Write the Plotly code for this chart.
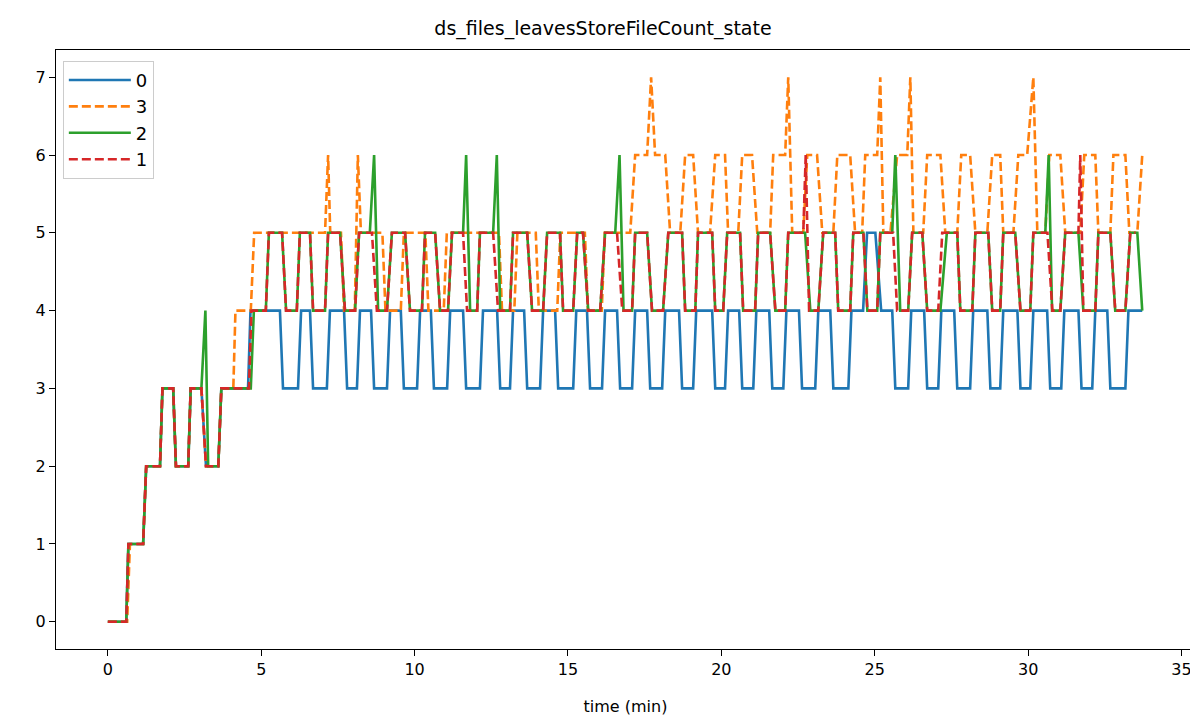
import plotly.graph_objects as go

# ---- series "0" (blue) ----
t0 = [0, 0.6, 0.67, 1.15, 1.25, 1.7, 1.78, 2.13, 2.22, 2.62, 2.7, 3.05, 3.2, 3.6, 3.7, 4.57, 4.65,
      5.61, 5.71, 6.20, 6.30, 6.59, 6.69, 7.14, 7.24, 7.70, 7.80, 8.12, 8.22,
      8.58, 8.68, 9.10, 9.20, 9.55, 9.65, 10.08, 10.18, 10.53, 10.63, 11.06, 11.16,
      11.58, 11.68, 12.13, 12.23, 12.69, 12.79, 13.11, 13.21, 13.57, 13.67, 14.09, 14.19,
      14.58, 14.68, 15.17, 15.27, 15.62, 15.72, 16.11, 16.21, 16.60, 16.70, 17.09, 17.19,
      17.58, 17.68, 18.07, 18.17, 18.62, 18.72, 19.08, 19.18, 19.70, 19.80, 20.12, 20.22,
      20.58, 20.68, 21.04, 21.14, 21.56, 21.66, 22.02, 22.12, 22.53, 22.63, 23.06, 23.16,
      23.55, 23.65, 24.14, 24.24, 24.62, 24.75, 25.02, 25.21,
      25.57, 25.67, 26.09, 26.19, 26.61, 26.71, 27.07, 27.17, 27.59, 27.69, 28.11, 28.21,
      28.67, 28.77, 29.09, 29.19, 29.65, 29.75, 30.07, 30.17, 30.62, 30.72, 31.08, 31.18,
      31.64, 31.74, 32.09, 32.19, 32.58, 32.68, 33.17, 33.27, 33.72]
v0 = [0, 0, 1, 1, 2, 2, 3, 3, 2, 2, 3, 3, 2, 2, 3, 3, 4,
      4, 3, 3, 4, 4, 3, 3, 4, 4, 3, 3, 4,
      4, 3, 3, 4, 4, 3, 3, 4, 4, 3, 3, 4,
      4, 3, 3, 4, 4, 3, 3, 4, 4, 3, 3, 4,
      4, 3, 3, 4, 4, 3, 3, 4, 4, 3, 3, 4,
      4, 3, 3, 4, 4, 3, 3, 4, 4, 3, 3, 4,
      4, 3, 3, 4, 4, 3, 3, 4, 4, 3, 3, 4,
      4, 3, 3, 4, 4, 5, 5, 4,
      4, 3, 3, 4, 4, 3, 3, 4, 4, 3, 3, 4,
      4, 3, 3, 4, 4, 3, 3, 4, 4, 3, 3, 4,
      4, 3, 3, 4, 4, 3, 3, 4, 4]

# ---- series "3" (orange) ----
t3 = [0, 0.63, 0.72, 1.15, 1.25, 1.7, 1.78, 2.13, 2.22, 2.62, 2.7, 3.05, 3.2, 3.6, 3.7, 4.09, 4.16, 4.66, 4.77,
      7.08, 7.18, 7.25, 7.60, 7.70, 8.05, 8.15, 8.25, 8.35,
      8.95, 9.05, 9.55, 9.65, 10.35, 10.45, 10.95, 11.05,
      12.75, 12.85, 13.25, 13.35, 13.95, 14.05, 14.65, 14.75,
      15.55, 15.65, 16.10, 16.20, 16.45, 16.55,
      17.03, 17.19, 17.58, 17.71, 17.84, 18.17, 18.33, 18.66, 18.82, 19.08, 19.24, 19.63,
      19.80, 20.12, 20.22, 20.55, 20.68, 21.00, 21.17, 21.59, 21.69, 22.08, 22.18, 22.31,
      22.67, 22.80, 23.12, 23.29, 23.65, 23.78, 24.20, 24.36, 24.59, 24.69, 25.08, 25.18,
      25.28, 25.51, 25.73, 26.06, 26.16, 26.26, 26.58, 26.71, 27.14, 27.30, 27.69, 27.82,
      28.11, 28.28, 28.67, 28.83, 29.09, 29.19, 29.52, 29.68, 29.97, 30.17, 30.30, 30.56,
      30.69, 31.05, 31.21, 31.70, 31.83, 32.19, 32.29, 32.68, 32.78, 33.17, 33.30, 33.56, 33.72]
v3 = [0, 0, 1, 1, 2, 2, 3, 3, 2, 2, 3, 3, 2, 2, 3, 3, 4, 4, 5,
      5, 6, 5, 5, 4, 4, 6, 5, 5,
      5, 4, 4, 5, 5, 4, 4, 5,
      5, 4, 4, 5, 5, 4, 4, 5,
      5, 4, 4, 5, 5, 5,
      5, 6, 6, 7, 6, 6, 5, 5, 6, 6, 5, 5,
      6, 6, 5, 5, 6, 6, 5, 5, 6, 6, 7, 5,
      5, 6, 6, 5, 5, 6, 6, 5, 5, 6, 6, 7,
      5, 5, 6, 6, 7, 5, 5, 6, 6, 5, 5, 6,
      6, 5, 5, 6, 6, 5, 5, 6, 6, 7, 5, 5,
      6, 6, 5, 5, 6, 6, 5, 5, 6, 6, 5, 5, 6]

# ---- series "2" (green) ----
t2 = [0, 0.6, 0.67, 1.15, 1.25, 1.7, 1.78, 2.13, 2.22, 2.62, 2.7, 3.05, 3.18, 3.27, 3.6, 3.7, 4.66, 4.76,
      5.15, 5.25, 5.68, 5.81, 6.16, 6.26, 6.59, 6.69, 7.08, 7.18, 7.57, 7.73,
      8.06, 8.19, 8.54, 8.68, 8.81, 9.10, 9.26, 9.69, 9.85, 10.24, 10.34, 10.67, 10.83,
      11.09, 11.22, 11.58, 11.68, 11.81, 12.04, 12.13, 12.56, 12.68, 12.79,
      13.11, 13.21, 13.67, 13.83, 14.19, 14.32, 14.74, 14.84, 15.17, 15.30, 15.49, 15.66,
      16.05, 16.21, 16.54, 16.68, 16.81, 17.09, 17.19, 17.58, 17.74, 18.10, 18.27, 18.72, 18.82,
      19.15, 19.24, 19.70, 19.80, 20.06, 20.19, 20.61, 20.71, 21.10, 21.20, 21.59, 21.76,
      22.08, 22.18, 22.73, 22.90, 23.16, 23.32, 23.71, 23.81, 24.20, 24.30, 24.63, 24.76,
      25.08, 25.18, 25.57, 25.67, 25.83, 26.09, 26.22, 26.55, 26.71, 27.14, 27.35, 27.69, 27.79,
      28.18, 28.28, 28.70, 28.83, 29.09, 29.19, 29.58, 29.75,
      30.07, 30.17, 30.56, 30.67, 30.78, 31.05, 31.21, 31.64, 31.80, 32.19, 32.29, 32.68, 32.84,
      33.17, 33.33, 33.56, 33.72]
v2 = [0, 0, 1, 1, 2, 2, 3, 3, 2, 2, 3, 3, 4, 2, 2, 3, 3, 4,
      4, 5, 5, 4, 4, 5, 5, 4, 4, 5, 5, 4,
      4, 5, 5, 6, 4, 4, 5, 5, 4, 4, 5, 5, 4,
      4, 5, 5, 6, 4, 4, 5, 5, 6, 4,
      4, 5, 5, 4, 4, 5, 5, 4, 4, 5, 5, 4,
      4, 5, 5, 6, 4, 4, 5, 5, 4, 4, 5, 5, 4,
      4, 5, 5, 4, 4, 5, 5, 4, 4, 5, 5, 4,
      4, 5, 5, 4, 4, 5, 5, 4, 4, 5, 5, 4,
      4, 5, 5, 6, 4, 4, 5, 5, 4, 4, 5, 5, 4,
      4, 5, 5, 4, 4, 5, 5, 4,
      4, 5, 5, 6, 4, 4, 5, 5, 4, 4, 5, 5, 4,
      4, 5, 5, 4]

# ---- series "1" (red) ----
t1 = [0, 0.6, 0.67, 1.15, 1.25, 1.7, 1.78, 2.13, 2.22, 2.62, 2.7, 3.05, 3.2, 3.6, 3.7, 4.6, 4.68,
      5.15, 5.25, 5.68, 5.81, 6.16, 6.26, 6.59, 6.69, 7.08, 7.18, 7.57, 7.73,
      8.06, 8.19, 8.61, 8.77, 9.10, 9.26, 9.69, 9.85, 10.24, 10.34, 10.67, 10.83,
      11.09, 11.22, 11.58, 11.71, 12.04, 12.13, 12.56, 12.72,
      13.11, 13.21, 13.67, 13.83, 14.19, 14.32, 14.74, 14.84, 15.17, 15.30, 15.49, 15.66,
      16.05, 16.21, 16.60, 16.77, 17.09, 17.19, 17.58, 17.74, 18.10, 18.27, 18.72, 18.82,
      19.15, 19.24, 19.70, 19.80, 20.06, 20.19, 20.61, 20.71, 21.10, 21.20, 21.59, 21.76,
      22.08, 22.18, 22.67, 22.75, 22.86, 23.16, 23.32, 23.71, 23.81, 24.20, 24.30, 24.63, 24.76,
      25.08, 25.18, 25.60, 25.73, 26.09, 26.22, 26.55, 26.71, 27.07, 27.20, 27.69, 27.79,
      28.18, 28.28, 28.70, 28.83, 29.09, 29.19, 29.58, 29.75,
      30.07, 30.17, 30.63, 30.79, 31.05, 31.21, 31.64, 31.70, 31.80, 32.19, 32.29, 32.68, 32.84,
      33.17, 33.33, 33.50]
v1 = [0, 0, 1, 1, 2, 2, 3, 3, 2, 2, 3, 3, 2, 2, 3, 3, 4,
      4, 5, 5, 4, 4, 5, 5, 4, 4, 5, 5, 4,
      4, 5, 5, 4, 4, 5, 5, 4, 4, 5, 5, 4,
      4, 5, 5, 4, 4, 5, 5, 4,
      4, 5, 5, 4, 4, 5, 5, 4, 4, 5, 5, 4,
      4, 5, 5, 4, 4, 5, 5, 4, 4, 5, 5, 4,
      4, 5, 5, 4, 4, 5, 5, 4, 4, 5, 5, 4,
      4, 5, 5, 6, 4, 4, 5, 5, 4, 4, 5, 5, 4,
      4, 5, 5, 4, 4, 5, 5, 4, 4, 5, 5, 4,
      4, 5, 5, 4, 4, 5, 5, 4,
      4, 5, 5, 4, 4, 5, 5, 6, 4, 4, 5, 5, 4,
      4, 5, 5]

series = [
    ("0", t0, v0, "#1f77b4", "solid"),
    ("3", t3, v3, "#ff7f0e", "9px,4px"),
    ("2", t2, v2, "#2ca02c", "solid"),
    ("1", t1, v1, "#d62728", "9px,4px"),
]

fig = go.Figure()
for name, t, v, color, dash in series:
    fig.add_trace(go.Scatter(x=t, y=v, mode="lines", name=name,
                             line=dict(color=color, width=2.6, dash=dash)))

axis_common = dict(showline=True, linecolor="black", linewidth=1, mirror=True,
                   ticks="outside", ticklen=6, tickcolor="black", showgrid=False,
                   zeroline=False, tickfont=dict(family="DejaVu Sans", size=16, color="black"))

fig.update_layout(
    width=1190, height=713,
    margin=dict(l=48, r=3, t=42, b=72),
    paper_bgcolor="white", plot_bgcolor="white",
    title=dict(text="ds_files_leavesStoreFileCount_state", x=0.5, xanchor="center",
               y=0.972, yanchor="middle",
               font=dict(family="DejaVu Sans", size=19, color="black")),
    xaxis=dict(range=[-1.69, 35.44], tickvals=[0, 5, 10, 15, 20, 25, 30, 35],
               title=dict(text="time (min)", font=dict(family="DejaVu Sans", size=16, color="black"),
                          standoff=22),
               **axis_common),
    yaxis=dict(range=[-0.35, 7.35], tickvals=[0, 1, 2, 3, 4, 5, 6, 7], **axis_common),
    legend=dict(x=0.006, y=0.982, xanchor="left", yanchor="top",
                bordercolor="#cccccc", borderwidth=1, bgcolor="rgba(255,255,255,0.8)",
                font=dict(family="DejaVu Sans", size=18, color="black"),
                itemwidth=62, entrywidth=38, entrywidthmode="pixels", tracegroupgap=0),
    showlegend=True,
)

fig.write_html("out.html")
